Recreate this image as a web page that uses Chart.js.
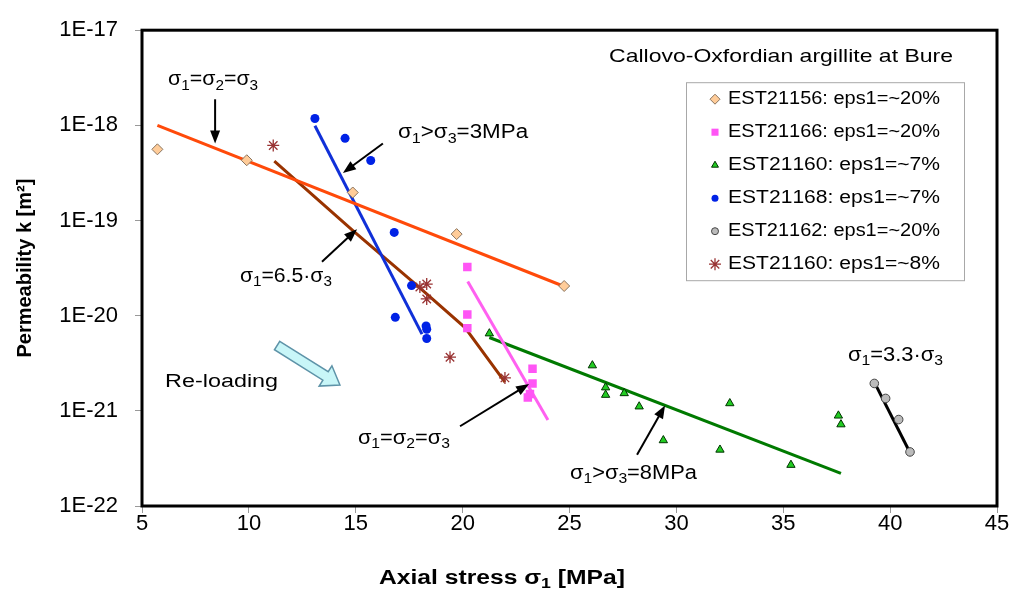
<!DOCTYPE html>
<html>
<head>
<meta charset="utf-8">
<script src="https://cdn.jsdelivr.net/npm/chart.js@4.4.1/dist/chart.umd.min.js"></script>
<style>
  html, body { margin: 0; padding: 0; background: #fff; }
  canvas { display: block; }
</style>
</head>
<body>
<canvas id="c" width="1013" height="595"></canvas>
<script>
// Permeability vs axial stress, Callovo-Oxfordian argillite (log y axis)

const FONT = '"Liberation Sans", Arial, Helvetica, sans-serif';

// measured points, x = axial stress [MPa], k = permeability [m2]
const est21156X = [5.72, 9.9, 14.86, 19.72, 24.75];
const est21156K = [5.6e-19, 4.3e-19, 1.97e-19, 7.2e-20, 2.05e-20];

const est21166X = [20.22, 20.22, 20.22, 23.27, 23.27, 23.05, 23.15];
const est21166K = [3.25e-20, 1.03e-20, 7.4e-21, 2.77e-21, 1.94e-21, 1.38e-21, 1.5e-21];

const est21160X = [21.25, 26.07, 26.69, 26.69, 27.56, 28.26, 29.39, 32.5, 32.04, 35.36, 37.58, 37.7];
const est21160K = [6.5e-21, 3.0e-21, 1.76e-21, 1.47e-21, 1.53e-21, 1.11e-21, 4.9e-22, 1.2e-21, 3.9e-22, 2.7e-22, 8.9e-22, 7.2e-22];

const est21168X = [13.09, 14.5, 15.7, 16.8, 17.61, 16.85, 18.29, 18.32, 18.32];
const est21168K = [1.18e-18, 7.3e-19, 4.27e-19, 7.5e-20, 2.07e-20, 9.6e-21, 7.8e-21, 7.2e-21, 5.75e-21];

const est21162X = [39.26, 39.79, 40.4, 40.93];
const est21162K = [1.94e-21, 1.35e-21, 8.1e-22, 3.7e-22];

const est21160bX = [11.14, 18.0, 18.32, 18.32, 19.41, 21.98];
const est21160bK = [6.15e-19, 2.0e-20, 2.15e-20, 1.5e-20, 3.66e-21, 2.22e-21];

// trend lines
const orangeFitX = [5.72, 24.7];
const orangeFitK = [1.0e-18, 2.05e-20];
const blueFitX = [13.09, 18.1];
const blueFitK = [9.9e-19, 6.4e-21];
const brownFitX = [11.19, 14.88, 17.85, 20.11, 21.98];
const brownFitK = [4.2e-19, 7.8e-20, 2.1e-20, 7.5e-21, 2.0e-21];
const pinkFitX = [20.24, 23.99];
const pinkFitK = [2.28e-20, 8.0e-22];
const greenFitX = [21.25, 37.7];
const greenFitK = [5.9e-21, 2.2e-22];
const blackFitX = [39.33, 40.85];
const blackFitK = [1.86e-21, 3.95e-22];

// axis ticks
const yTickValues = [1e-22, 1e-21, 1e-20, 1e-19, 1e-18, 1e-17];
const yTickLabels = ['1E-22', '1E-21', '1E-20', '1E-19', '1E-18', '1E-17'];

const toPts = (xs, ks) => xs.map((x, i) => ({ x: x, y: ks[i] }));

const series = [
  { label: 'EST21156: eps1=~20%', pts: toPts(est21156X, est21156K), style: 'rectRot', r: 5.5, lr: 5, fill: '#FFCC99', edge: '#8A7560', bw: 1 },
  { label: 'EST21166: eps1=~20%', pts: toPts(est21166X, est21166K), style: 'rect', r: 6, lr: 5, fill: '#FF55F5', edge: '#FF55F5', bw: 0 },
  { label: 'EST21160: eps1=~7%', pts: toPts(est21160X, est21160K), style: 'triangle', r: 4.8, lr: 4, fill: '#22CC22', edge: '#003300', bw: 1 },
  { label: 'EST21168: eps1=~7%', pts: toPts(est21168X, est21168K), style: 'circle', r: 4.5, lr: 3.5, fill: '#0022E6', edge: '#0022E6', bw: 0 },
  { label: 'EST21162: eps1=~20%', pts: toPts(est21162X, est21162K), style: 'circle', r: 4.3, lr: 3.5, fill: '#BBBBBB', edge: '#444444', bw: 1 },
  { label: 'EST21160: eps1=~8%', pts: toPts(est21160bX, est21160bK), style: 'star', r: 6, lr: 6, fill: '#993333', edge: '#993333', bw: 1.3 },
];

const fits = [
  { pts: toPts(orangeFitX, orangeFitK), color: '#FF4A0A' },
  { pts: toPts(blueFitX, blueFitK), color: '#1030D8' },
  { pts: toPts(brownFitX, brownFitK), color: '#993300' },
  { pts: toPts(pinkFitX, pinkFitK), color: '#FF60F0' },
  { pts: toPts(greenFitX, greenFitK), color: '#007A00' },
  { pts: toPts(blackFitX, blackFitK), color: '#000000' },
];

// text notes in data coordinates ('_' marks a one-char subscript)
const notes = [
  { text: 'σ_1=σ_2=σ_3', x: 6.22, k: 3.03e-18, w: 90 },
  { text: 'σ_1>σ_3=3MPa', x: 16.98, k: 8.37e-19, w: 130 },
  { text: 'σ_1=6.5·σ_3', x: 9.58, k: 2.58e-20, w: 92 },
  { text: 'Re-loading', x: 6.08, k: 2.01e-21, w: 113, size: 18 },
  { text: 'σ_1=σ_2=σ_3', x: 15.1, k: 5.18e-22, w: 92 },
  { text: 'σ_1>σ_3=8MPa', x: 25.02, k: 2.2e-22, w: 127 },
  { text: 'σ_1=3.3·σ_3', x: 38.03, k: 3.84e-21, w: 95 },
  { text: 'Callovo-Oxfordian argillite at Bure', x: 26.85, k: 5.3e-18, w: 344, size: 19 },
];
const arrows = [
  [8.42, 1.88e-18, 8.42, 6.45e-19],
  [16.27, 6.45e-19, 14.4, 3.16e-19],
  [13.42, 3.69e-20, 15.06, 8.11e-20],
  [19.88, 6.89e-22, 23.11, 1.92e-21],
  [28.16, 3.45e-22, 29.47, 1.14e-21],
];
const reloadArrow = [11.32, 4.86e-21, 14.26, 1.87e-21];

function drawRich(ctx, text, x, y, size, w, bold, align) {
  const parts = [];
  for (let i = 0; i < text.length; i++) {
    if (text[i] === '_') { parts.push({ t: text[i + 1], sub: true }); i++; }
    else parts.push({ t: text[i], sub: false });
  }
  const font = p => (bold ? 'bold ' : '') + (p.sub ? size * 0.72 : size) + 'px ' + FONT;
  let total = 0;
  parts.forEach(p => { ctx.font = font(p); p.w = ctx.measureText(p.t).width; total += p.w; });
  const sx = w ? w / total : 1;
  ctx.save();
  ctx.translate(align === 'center' ? x - total * sx / 2 : x, y);
  ctx.scale(sx, 1);
  ctx.fillStyle = '#000';
  ctx.textBaseline = 'middle';
  ctx.textAlign = 'left';
  let cx = 0;
  parts.forEach(p => {
    ctx.font = font(p);
    ctx.fillText(p.t, cx, p.sub ? size * 0.3 : 0);
    cx += p.w;
  });
  ctx.restore();
}

function drawArrow(ctx, x1, y1, x2, y2) {
  const a = Math.atan2(y2 - y1, x2 - x1);
  const hl = 13, hw = 5;
  ctx.save();
  ctx.strokeStyle = '#000';
  ctx.fillStyle = '#000';
  ctx.lineWidth = 2;
  ctx.beginPath();
  ctx.moveTo(x1, y1);
  ctx.lineTo(x2 - Math.cos(a) * hl * 0.8, y2 - Math.sin(a) * hl * 0.8);
  ctx.stroke();
  ctx.translate(x2, y2);
  ctx.rotate(a);
  ctx.beginPath();
  ctx.moveTo(0, 0);
  ctx.lineTo(-hl, -hw);
  ctx.lineTo(-hl, hw);
  ctx.closePath();
  ctx.fill();
  ctx.restore();
}

function drawBlockArrow(ctx, x1, y1, x2, y2) {
  const a = Math.atan2(y2 - y1, x2 - x1);
  const L = Math.hypot(x2 - x1, y2 - y1);
  const sw = 5, hw = 12, hl = 17;
  ctx.save();
  ctx.translate(x1, y1);
  ctx.rotate(a);
  ctx.beginPath();
  ctx.moveTo(0, -sw);
  ctx.lineTo(L - hl, -sw);
  ctx.lineTo(L - hl, -hw);
  ctx.lineTo(L, 0);
  ctx.lineTo(L - hl, hw);
  ctx.lineTo(L - hl, sw);
  ctx.lineTo(0, sw);
  ctx.closePath();
  ctx.fillStyle = '#C8F6F8';
  ctx.fill();
  ctx.strokeStyle = '#5E93A8';
  ctx.lineWidth = 1.5;
  ctx.stroke();
  ctx.restore();
}

const decor = {
  id: 'decor',
  afterDatasetsDraw(chart) {
    const ctx = chart.ctx;
    const xs = chart.scales.x, ys = chart.scales.y;
    const area = chart.chartArea;
    const P = (x, k) => [xs.getPixelForValue(x), ys.getPixelForValue(k)];

    // plot frame
    ctx.save();
    ctx.strokeStyle = '#000';
    ctx.lineWidth = 3;
    ctx.strokeRect(area.left, area.top, area.right - area.left, area.bottom - area.top);
    ctx.restore();

    notes.forEach(n => {
      const p = P(n.x, n.k);
      drawRich(ctx, n.text, p[0], p[1], n.size || 20, n.w, false, 'left');
    });
    arrows.forEach(a => {
      const p1 = P(a[0], a[1]), p2 = P(a[2], a[3]);
      drawArrow(ctx, p1[0], p1[1], p2[0], p2[1]);
    });
    const r1 = P(reloadArrow[0], reloadArrow[1]), r2 = P(reloadArrow[2], reloadArrow[3]);
    drawBlockArrow(ctx, r1[0], r1[1], r2[0], r2[1]);

    // legend box
    const bx = area.right - 311, by = area.top + 52, bw = 278, bh = 198;
    ctx.save();
    ctx.fillStyle = '#fff';
    ctx.fillRect(bx, by, bw, bh);
    ctx.strokeStyle = '#A8A8A8';
    ctx.lineWidth = 1;
    ctx.strokeRect(bx + 0.5, by + 0.5, bw, bh);
    series.forEach((s, i) => {
      const y = by + 17 + i * 33;
      ctx.fillStyle = s.fill;
      ctx.strokeStyle = s.edge;
      ctx.lineWidth = s.bw;
      if (Chart.helpers && Chart.helpers.drawPoint) {
        Chart.helpers.drawPoint(ctx, { pointStyle: s.style, radius: s.lr, rotation: 0, borderWidth: s.bw }, bx + 29, y);
      }
      drawRich(ctx, s.label, bx + 42, y, 18, 212, false, 'left');
    });
    ctx.restore();

    // x axis title with subscript
    drawRich(ctx, 'Axial stress σ_1 [MPa]', xs.getPixelForValue(21.84), chart.height - 17, 20, 246, true, 'center');
  }
};

const datasets = [];
series.forEach(s => datasets.push({
  label: s.label,
  data: s.pts,
  showLine: false,
  pointStyle: s.style,
  pointRadius: s.r,
  pointHoverRadius: s.r,
  backgroundColor: s.fill,
  borderColor: s.edge,
  borderWidth: s.bw,
  order: 0,
}));
fits.forEach(f => datasets.push({
  data: f.pts,
  showLine: true,
  borderColor: f.color,
  borderWidth: 3,
  pointRadius: 0,
  fill: false,
  order: 1,
}));

new Chart(document.getElementById('c'), {
  type: 'scatter',
  data: { datasets },
  options: {
    responsive: false,
    animation: false,
    devicePixelRatio: 1,
    layout: { padding: { left: 0, top: 23, right: 16, bottom: 0 } },
    plugins: { legend: { display: false }, tooltip: { enabled: false } },
    scales: {
      x: {
        type: 'linear',
        min: 5, max: 45,
        afterFit: s => { s.height = 89; },
        ticks: { stepSize: 5, color: '#000', padding: 0, maxRotation: 0, font: { family: '"Liberation Sans Narrow", ' + FONT, size: 22, lineHeight: 1 } },
        grid: { drawOnChartArea: false, drawTicks: true, tickLength: 7, color: '#999' },
        border: { display: false },
      },
      y: {
        type: 'logarithmic',
        min: 1e-22, max: 1e-17,
        afterFit: s => { s.width = 142; },
        afterBuildTicks: s => { s.ticks = yTickValues.map(v => ({ value: v })); },
        ticks: { color: '#000', padding: 17, font: { family: FONT, size: 22 }, callback: (v, i) => yTickLabels[i] },
        grid: { drawOnChartArea: false, drawTicks: true, tickLength: 7, color: '#999' },
        border: { display: false },
        title: { display: true, text: 'Permeability k [m²]', color: '#000', font: { family: FONT, size: 20, weight: 'bold' }, padding: { top: 13, bottom: 0 } },
      },
    },
  },
  plugins: [decor],
});
</script>
</body>
</html>
